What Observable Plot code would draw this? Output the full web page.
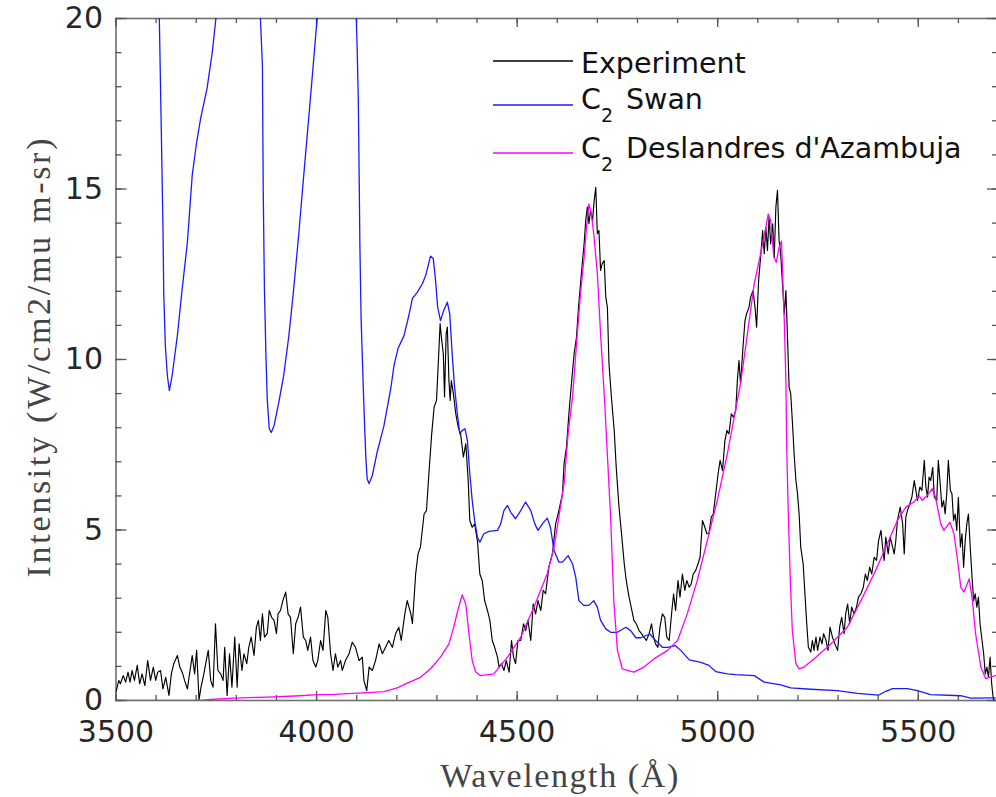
<!DOCTYPE html>
<html><head><meta charset="utf-8">
<script src="https://cdn.jsdelivr.net/npm/d3@7"></script>
<script src="https://cdn.jsdelivr.net/npm/@observablehq/plot@0.6"></script>
<style>
html,body{margin:0;padding:0;background:#fff;overflow:hidden;}
#wrap{position:relative;width:996px;height:797px;overflow:hidden;background:#fff;}
#legend{position:absolute;left:0;top:0;pointer-events:none;}
</style></head><body><div id="wrap"></div>
<script>
// ---- data (wavelength Å, intensity) ----
const experiment = [
[3501,0.29],[3507,0.59],[3511,0.49],[3518,0.73],[3524,0.54],[3530,0.83],[3535,0.54],[3540,0.88],[3546,0.59],[3553,1.03],[3559,0.49],[3565,0.78],[3572,0.44],[3579,1.17],[3586,0.59],[3593,0.98],[3599,0.59],[3604,0.83],[3611,0.88],[3617,0.34],[3624,0.68],[3632,0.15],[3638,0.78],[3644,1.08],[3653,1.32],[3659,0.98],[3665,0.83],[3671,0.59],[3678,0.34],[3684,0.83],[3690,1.32],[3696,0.78],[3701,1.47],[3707,0.02],[3712,0.39],[3719,0.78],[3725,1.17],[3730,1.47],[3736,0.59],[3742,0.39],[3748,2.25],[3754,0.88],[3761,0.78],[3767,0.59],[3771,1.56],[3777,0.15],[3783,1.37],[3789,0.39],[3796,1.86],[3802,0.39],[3807,1.66],[3814,0.88],[3819,1.37],[3826,1.08],[3831,1.56],[3837,1.86],[3844,1.32],[3850,2.15],[3855,2.35],[3860,1.76],[3865,2.54],[3870,1.86],[3877,1.96],[3882,2.64],[3888,2.44],[3894,2.35],[3900,1.96],[3904,2.54],[3910,2.64],[3916,2.93],[3923,3.18],[3929,2.54],[3935,2.44],[3942,1.37],[3948,2.25],[3954,2.44],[3960,2.74],[3967,1.86],[3973,1.76],[3978,1.47],[3985,1.86],[3991,1.17],[3998,0.98],[4003,1.17],[4010,1.76],[4016,1.47],[4023,2.64],[4028,2.44],[4035,1.37],[4041,0.88],[4047,1.37],[4053,0.98],[4060,1.17],[4064,0.88],[4072,1.17],[4081,1.37],[4089,1.71],[4097,1.56],[4106,1.17],[4114,1.27],[4118,0.59],[4125,0.29],[4131,0.98],[4139,0.88],[4147,1.17],[4156,1.66],[4164,1.37],[4172,1.56],[4180,1.76],[4189,1.56],[4197,1.96],[4205,2.15],[4211,1.76],[4220,2.54],[4226,2.93],[4235,2.54],[4239,2.25],[4247,3.71],[4253,4.3],[4259,4.5],[4268,5.47],[4274,5.57],[4280,6.65],[4287,7.82],[4293,8.6],[4299,8.8],[4303,9.78],[4308,11.05],[4312,10.56],[4316,10.17],[4319,8.9],[4323,10.75],[4326,10.95],[4330,9.38],[4333,8.8],[4336,9.38],[4341,9.0],[4347,8.41],[4353,8.02],[4359,7.82],[4366,7.14],[4372,7.53],[4378,6.45],[4382,5.28],[4388,5.08],[4394,5.18],[4401,4.69],[4407,3.71],[4413,3.52],[4419,2.93],[4426,2.64],[4432,2.35],[4438,1.76],[4444,1.56],[4451,1.27],[4455,0.98],[4461,1.08],[4467,0.88],[4473,1.17],[4480,0.83],[4486,1.76],[4491,1.27],[4496,1.08],[4502,1.76],[4509,1.76],[4516,2.25],[4521,2.05],[4527,2.35],[4534,1.76],[4540,2.83],[4546,2.54],[4552,2.93],[4559,2.64],[4565,3.23],[4571,3.13],[4579,3.91],[4588,4.3],[4596,5.18],[4604,5.57],[4613,6.06],[4617,6.94],[4623,7.43],[4629,8.41],[4636,9.38],[4642,10.17],[4648,10.65],[4653,11.53],[4658,12.22],[4663,12.9],[4667,13.39],[4671,14.08],[4675,14.47],[4679,13.98],[4683,14.37],[4688,14.08],[4692,14.66],[4696,15.05],[4700,13.69],[4704,13.78],[4708,12.61],[4712,12.81],[4717,12.9],[4721,11.83],[4725,11.53],[4729,9.87],[4735,8.9],[4742,7.92],[4747,6.84],[4754,5.67],[4761,4.79],[4767,4.01],[4772,3.52],[4779,3.03],[4786,2.64],[4791,2.35],[4797,2.25],[4804,2.05],[4810,1.96],[4816,1.86],[4822,1.76],[4829,1.96],[4835,2.25],[4840,1.86],[4845,1.66],[4851,1.56],[4856,2.15],[4862,2.54],[4868,2.44],[4873,1.86],[4879,1.76],[4885,2.54],[4890,3.13],[4895,2.64],[4901,3.52],[4906,3.03],[4912,3.71],[4918,3.23],[4923,3.52],[4929,3.32],[4934,3.42],[4939,3.71],[4945,3.81],[4951,4.01],[4956,4.2],[4962,5.28],[4968,5.08],[4973,4.89],[4978,4.89],[4984,5.38],[4989,5.47],[4995,6.06],[5001,6.65],[5006,7.04],[5012,6.74],[5018,7.62],[5023,7.92],[5028,7.82],[5034,8.41],[5039,8.31],[5045,8.5],[5049,9.38],[5053,9.97],[5057,9.28],[5063,10.36],[5068,11.14],[5072,11.34],[5078,11.53],[5082,11.83],[5088,12.02],[5093,11.53],[5097,10.95],[5102,12.32],[5107,13.0],[5112,13.78],[5116,13.1],[5120,13.88],[5124,13.2],[5128,14.17],[5132,13.39],[5137,13.98],[5141,13.0],[5145,14.47],[5149,14.96],[5153,13.49],[5157,13.1],[5161,12.32],[5166,11.34],[5170,12.02],[5174,10.65],[5178,9.19],[5182,9.0],[5186,8.21],[5191,7.14],[5195,6.45],[5199,6.06],[5203,5.47],[5207,4.5],[5213,4.01],[5218,3.03],[5222,2.25],[5226,1.56],[5232,1.42],[5236,1.76],[5240,1.47],[5245,1.86],[5249,1.47],[5255,1.86],[5260,1.66],[5264,1.96],[5270,1.76],[5275,1.47],[5280,2.15],[5286,1.86],[5292,1.66],[5299,1.47],[5304,2.15],[5309,2.44],[5315,1.96],[5319,2.54],[5324,2.83],[5329,2.25],[5334,2.74],[5340,2.54],[5346,2.74],[5351,3.03],[5357,3.13],[5363,3.32],[5368,3.71],[5373,3.52],[5379,3.91],[5384,3.71],[5390,4.2],[5396,4.11],[5401,4.69],[5407,4.99],[5411,4.5],[5415,4.11],[5419,4.79],[5425,4.3],[5430,4.79],[5436,4.5],[5440,4.3],[5444,4.69],[5448,5.28],[5455,5.67],[5461,5.18],[5465,4.3],[5469,5.38],[5473,5.57],[5479,5.77],[5484,5.96],[5490,6.45],[5494,6.16],[5498,5.86],[5504,6.26],[5509,6.16],[5515,7.04],[5519,6.26],[5523,5.96],[5527,6.55],[5531,6.45],[5536,6.84],[5540,5.96],[5546,5.86],[5550,7.04],[5554,6.45],[5559,5.67],[5563,5.86],[5567,5.47],[5571,6.06],[5575,7.04],[5580,6.16],[5584,6.06],[5588,5.28],[5592,5.47],[5596,4.99],[5600,5.96],[5605,4.5],[5609,4.89],[5613,3.91],[5617,4.69],[5621,5.18],[5625,5.47],[5630,4.4],[5634,3.62],[5638,2.93],[5642,3.13],[5646,2.74],[5650,3.03],[5654,2.25],[5659,1.76],[5663,1.37],[5667,0.78],[5671,0.98],[5675,0.68],[5679,1.27],[5683,0.49],[5687,0.05],[5690,0.0]
];
const swan = [
[3500,30],[3605,23],[3608,20.0],[3613,16.67],[3617,13.93],[3619,11.97],[3623,10.41],[3628,9.53],[3633,9.09],[3640,9.53],[3653,10.7],[3665,12.07],[3678,13.44],[3690,15.4],[3701,16.37],[3711,17.07],[3727,17.95],[3740,19.01],[3750,20.1],[3760,21.5],[3810,26],[3855,23],[3860,20.0],[3865,18.62],[3867,15.0],[3870,12.07],[3874,10.03],[3877,8.85],[3882,7.97],[3887,7.86],[3894,8.06],[3906,8.75],[3918,9.53],[3931,10.7],[3943,12.07],[3956,13.73],[3968,15.4],[3981,17.16],[3993,18.82],[4002,20.09],[4012,21.5],[4055,26],[4095,23],[4099,20.0],[4101,19.2],[4104,17.65],[4106,15.6],[4108,13.34],[4111,11.2],[4116,9.34],[4120,7.97],[4123,7.1],[4126,6.5],[4131,6.36],[4139,6.6],[4151,7.28],[4168,8.06],[4185,9.15],[4193,9.82],[4203,10.32],[4218,10.7],[4230,11.29],[4239,11.79],[4251,11.97],[4264,12.23],[4272,12.46],[4284,13.03],[4291,12.96],[4297,12.27],[4302,11.53],[4309,11.14],[4317,11.44],[4326,11.68],[4332,11.34],[4338,10.17],[4344,9.19],[4351,8.41],[4357,7.82],[4363,7.92],[4370,7.97],[4376,7.62],[4382,6.65],[4388,5.87],[4394,5.28],[4401,4.79],[4407,4.64],[4417,4.89],[4430,4.96],[4451,4.99],[4459,5.18],[4467,5.57],[4476,5.72],[4484,5.52],[4496,5.33],[4509,5.57],[4521,5.82],[4534,5.57],[4544,5.18],[4552,4.99],[4563,5.18],[4575,5.35],[4583,5.08],[4592,4.4],[4604,4.06],[4613,4.06],[4627,4.25],[4638,4.01],[4646,3.62],[4654,2.93],[4666,2.79],[4679,2.79],[4691,2.93],[4700,2.74],[4708,2.35],[4721,2.10],[4733,2.0],[4750,2.0],[4771,2.15],[4783,2.05],[4796,1.84],[4808,1.84],[4831,1.95],[4845,1.76],[4862,1.56],[4875,1.56],[4894,1.61],[4908,1.47],[4929,1.19],[4958,1.12],[4978,1.03],[4995,0.85],[5024,0.78],[5045,0.76],[5091,0.73],[5116,0.54],[5157,0.46],[5182,0.37],[5232,0.33],[5298,0.29],[5348,0.21],[5402,0.16],[5419,0.27],[5436,0.35],[5473,0.35],[5498,0.29],[5531,0.17],[5606,0.14],[5631,0.07],[5700,0.08]
];
const deslandres = [
[3500,0.0],[3711,0.0],[3736,0.03],[3793,0.07],[3877,0.1],[3960,0.14],[4002,0.17],[4043,0.18],[4126,0.23],[4168,0.26],[4201,0.37],[4226,0.51],[4259,0.68],[4284,0.93],[4309,1.27],[4330,1.66],[4342,2.15],[4352,2.64],[4363,3.10],[4372,2.83],[4380,1.95],[4388,1.17],[4397,0.83],[4409,0.73],[4442,0.78],[4459,1.03],[4476,1.27],[4509,1.86],[4542,2.74],[4575,3.72],[4592,4.5],[4604,5.38],[4617,6.35],[4627,7.82],[4638,8.89],[4650,10.75],[4658,11.93],[4667,13.0],[4673,13.88],[4679,14.56],[4685,14.27],[4691,13.68],[4700,12.51],[4708,10.75],[4718,8.8],[4733,5.38],[4741,2.93],[4750,1.47],[4762,0.93],[4791,0.83],[4816,0.98],[4841,1.22],[4875,1.47],[4900,1.76],[4924,2.54],[4949,3.52],[4974,4.69],[4999,5.87],[5024,7.23],[5049,8.8],[5057,9.29],[5074,10.75],[5091,12.22],[5107,13.1],[5120,13.88],[5126,14.27],[5132,14.08],[5140,13.0],[5146,12.85],[5153,13.29],[5159,13.47],[5166,11.14],[5170,9.38],[5172,7.43],[5176,5.47],[5181,3.52],[5186,2.05],[5195,1.08],[5203,0.93],[5215,0.98],[5240,1.22],[5282,1.66],[5323,2.15],[5357,2.93],[5390,3.72],[5423,4.6],[5448,5.28],[5469,5.67],[5489,5.82],[5502,6.01],[5510,5.87],[5522,6.01],[5535,6.21],[5543,5.96],[5556,5.18],[5564,4.99],[5579,5.23],[5589,4.89],[5598,4.11],[5606,3.32],[5614,3.18],[5627,3.57],[5635,2.93],[5643,1.95],[5656,0.98],[5668,0.64],[5700,0.76]
];
const xDomain = [3500, 5700];
const yDomain = [0, 20];
const xTickLabels = [3500, 4000, 4500, 5000, 5500];
const xMinorTicks = d3.range(3500, 5701, 100);
const yTickLabels = [0, 5, 10, 15, 20];
const yMinorTicks = d3.range(0, 21, 1);
const legendItems = [
  {name: "Experiment", sub: null, rest: null, color: "#000000"},
  {name: "C", sub: "2", rest: "Swan", color: "#1a1aff"},
  {name: "C", sub: "2", rest: "Deslandres d'Azambuja", color: "#ff00ff"}
];

// ---- layout ----
const W = 1000, H = 797;
const mL = 115.5, mR = 2, mT = 18, mB = 97;
const kx = (xDomain[1] - xDomain[0]) / (W - mL - mR); // Å per px
const ky = (yDomain[1] - yDomain[0]) / (H - mT - mB); // units per px
const tickColor = "#555";
const toObj = a => a.map(([x, y]) => ({x, y}));

const svg = Plot.plot({
  width: W, height: H,
  marginLeft: mL, marginRight: mR, marginTop: mT, marginBottom: mB,
  x: {domain: xDomain, label: null},
  y: {domain: yDomain, label: null},
  style: {fontFamily: "DejaVu Sans", color: "#262626", background: "white", maxWidth: "none"},
  marks: [
    Plot.frame({stroke: "#707070", strokeWidth: 1.6}),
    // inward ticks: bottom/top
    Plot.ruleX(xMinorTicks, {x: d => d, y1: yDomain[0], y2: yDomain[0] + 5 * ky, stroke: tickColor, strokeWidth: 1.3}),
    Plot.ruleX(xTickLabels, {x: d => d, y1: yDomain[0], y2: yDomain[0] + 9 * ky, stroke: tickColor, strokeWidth: 1.3}),
    Plot.ruleX(xMinorTicks, {x: d => d, y1: yDomain[1] - 5 * ky, y2: yDomain[1], stroke: tickColor, strokeWidth: 1.3}),
    Plot.ruleX(xTickLabels, {x: d => d, y1: yDomain[1] - 9 * ky, y2: yDomain[1], stroke: tickColor, strokeWidth: 1.3}),
    // left/right
    Plot.ruleY(yMinorTicks, {y: d => d, x1: xDomain[0], x2: xDomain[0] + 6 * kx, stroke: tickColor, strokeWidth: 1.3}),
    Plot.ruleY(yTickLabels, {y: d => d, x1: xDomain[0], x2: xDomain[0] + 11 * kx, stroke: tickColor, strokeWidth: 1.3}),
    Plot.ruleY(yMinorTicks, {y: d => d, x1: xDomain[1] - 6 * kx, x2: xDomain[1], stroke: tickColor, strokeWidth: 1.3}),
    Plot.ruleY(yTickLabels, {y: d => d, x1: xDomain[1] - 11 * kx, x2: xDomain[1], stroke: tickColor, strokeWidth: 1.3}),
    Plot.axisX(xTickLabels, {tickSize: 0, tickPadding: 20, tickFormat: d => String(d), fontSize: 30, label: null}),
    Plot.axisY(yTickLabels, {tickSize: 0, tickPadding: 13, tickFormat: d => String(d), fontSize: 30, label: null}),
    // curves
    Plot.line(toObj(experiment), {x: "x", y: "y", stroke: "#000", strokeWidth: 1.15, clip: true}),
    Plot.line(toObj(swan), {x: "x", y: "y", stroke: legendItems[1].color, strokeWidth: 1.3, clip: true}),
    Plot.line(toObj(deslandres), {x: "x", y: "y", stroke: legendItems[2].color, strokeWidth: 1.3, clip: true}),
    // axis titles
    Plot.text(["Wavelength (Å)"], {text: d => d, frameAnchor: "bottom", dy: 75.7, dx: 2, lineAnchor: "middle", textAnchor: "middle",
      fontFamily: "Liberation Serif", fontSize: 34, fill: "#444"}),
    Plot.text(["Intensity (W/cm2/mu m-sr)"], {text: d => d, frameAnchor: "left", dx: -76.5, dy: -1.5, rotate: -90, lineAnchor: "middle", textAnchor: "middle",
      fontFamily: "Liberation Serif", fontSize: 34, fill: "#444"})
  ]
});
svg.style.maxWidth = "none";
svg.style.height = H + "px";
d3.select(svg).selectAll("text")
  .filter(function() { return this.textContent === "Wavelength (Å)"; })
  .attr("textLength", 238).attr("lengthAdjust", "spacing");
d3.select(svg).selectAll("text")
  .filter(function() { return this.textContent === "Intensity (W/cm2/mu m-sr)"; })
  .attr("textLength", 439).attr("lengthAdjust", "spacing");

const wrap = document.getElementById("wrap");
wrap.appendChild(svg);

// ---- legend overlay ----
const lg = d3.select(wrap).append("svg").attr("id", "legend").attr("width", 996).attr("height", 200)
  .style("font-family", "DejaVu Sans");
const rowsY = [61, 105, 153];
const baseY = [73, 108.7, 157.7];
legendItems.forEach((it, i) => {
  lg.append("line").attr("x1", 493).attr("x2", 573).attr("y1", rowsY[i]).attr("y2", rowsY[i])
    .attr("stroke", it.color).attr("stroke-width", 1.4);
  lg.append("text").attr("x", 581).attr("y", baseY[i]).attr("font-size", 28.5).attr("fill", "#111").text(it.name);
  if (it.sub) {
    lg.append("text").attr("x", 601).attr("y", baseY[i] + 13).attr("font-size", 19).attr("fill", "#111").text(it.sub);
    lg.append("text").attr("x", 626).attr("y", baseY[i]).attr("font-size", 28.5).attr("fill", "#111").text(it.rest);
  }
});
</script></body></html>
